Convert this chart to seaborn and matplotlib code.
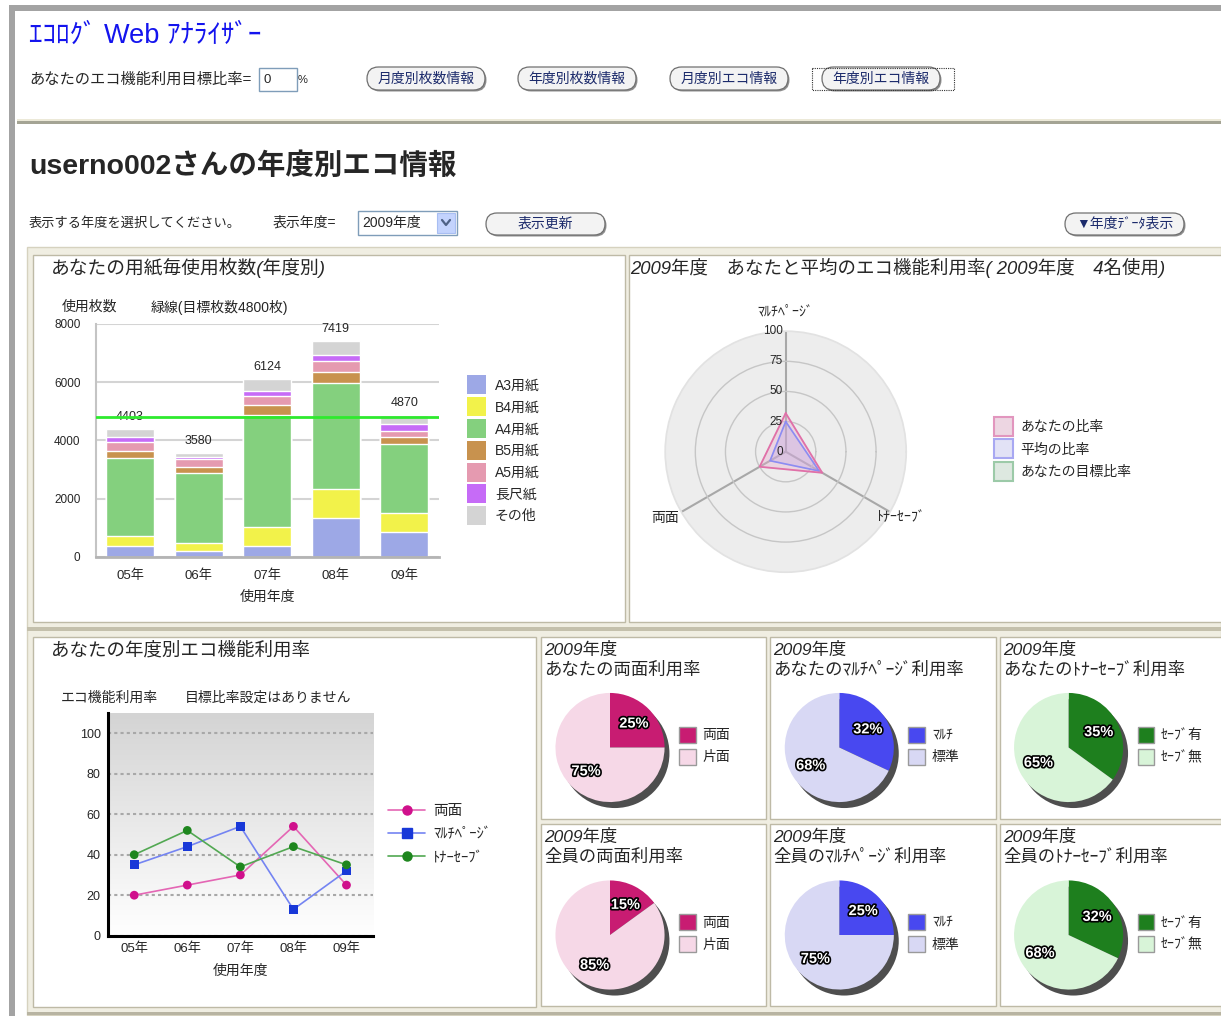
import numpy as np
import pandas as pd
import matplotlib
matplotlib.use("Agg")
import matplotlib.pyplot as plt
import matplotlib.patheffects as pe
import seaborn as sns
from matplotlib.patches import Rectangle, FancyBboxPatch, Patch
from matplotlib.lines import Line2D
from matplotlib.colors import LinearSegmentedColormap

W, H = 1221, 1016

# --- paper usage per year (stacked bars) ---
years = ["05年", "06年", "07年", "08年", "09年"]
paper_types = ["A3用紙", "B4用紙", "A4用紙", "B5用紙", "A5用紙", "長尺紙", "その他"]
paper_colors = ["#9DA8E6", "#F2F24A", "#84D07E", "#C8924E", "#E59AB0", "#C66BF7", "#D4D4D4"]
a3 = [380, 200, 370, 1330, 860]
b4 = [340, 260, 640, 1000, 650]
a4 = [2670, 2405, 3850, 3650, 2365]
b5 = [255, 230, 345, 370, 230]
a5 = [310, 250, 320, 365, 230]
chou = [150, 95, 180, 220, 230]
other = [298, 140, 419, 484, 305]
target_sheets = 4800
bar_ticks = [0, 2000, 4000, 6000, 8000]

# --- eco function rate per year (lines) ---
eco_series = ["両面", "ﾏﾙﾁﾍﾟｰｼﾞ", "ﾄﾅｰｾｰﾌﾞ"]
duplex_rate = [20, 25, 30, 54, 25]
multipage_rate = [35, 44, 54, 13, 32]
toner_rate = [40, 52, 34, 44, 35]
line_ticks = [0, 20, 40, 60, 80, 100]
line_colors = ["#E466B4", "#7484F2", "#52A852"]
marker_colors = ["#D0108C", "#1838D8", "#1E861E"]

# --- radar (2009) ---
radar_axes = ["ﾏﾙﾁﾍﾟｰｼﾞ", "ﾄﾅｰｾｰﾌﾞ", "両面"]
radar_deg = [90, 330, 210]
you_ratio = [32, 35, 25]
avg_ratio = [25, 32, 15]
goal_ratio = [0, 0, 0]
radar_ticks = [0, 25, 50, 75, 100]
radar_legend = ["あなたの比率", "平均の比率", "あなたの目標比率"]

# --- pies (2009) ---
pie_titles_you = ["あなたの両面利用率", "あなたのﾏﾙﾁﾍﾟｰｼﾞ利用率", "あなたのﾄﾅｰｾｰﾌﾞ利用率"]
pie_titles_all = ["全員の両面利用率", "全員のﾏﾙﾁﾍﾟｰｼﾞ利用率", "全員のﾄﾅｰｾｰﾌﾞ利用率"]
pie_labels = [["両面", "片面"], ["ﾏﾙﾁ", "標準"], ["ｾｰﾌﾞ有", "ｾｰﾌﾞ無"]]
you_on = [25, 32, 35]
you_off = [75, 68, 65]
all_on = [15, 25, 32]
all_off = [85, 75, 68]
pie_dark = ["#C81C72", "#4848F0", "#1E7F1E"]
pie_light = ["#F6D8E7", "#D8D8F4", "#D8F4D8"]

sns.set_theme(style="white")
plt.rcParams["font.family"] = ["Liberation Sans", "Noto Sans CJK JP", "DejaVu Sans"]


def box(x0, y0, x1, y1):
    return [x0 / W, 1 - y1 / H, (x1 - x0) / W, (y1 - y0) / H]


def hh(px, fs):
    # legend handleheight (font units) that gives a handle of px pixels
    return (px / (fs * 100 / 72) - 0.245) / 0.65


fig = plt.figure(figsize=(W / 100, H / 100), dpi=100)
fig.patch.set_facecolor("white")
bg = fig.add_axes([0, 0, 1, 1])
bg.set_xlim(0, W)
bg.set_ylim(H, 0)
bg.axis("off")

# page frame
bg.add_patch(Rectangle((9, 5), W - 9, 6, color="#A3A3A3", lw=0))
bg.add_patch(Rectangle((9, 5), 6, H - 5, color="#A3A3A3", lw=0))
bg.add_patch(Rectangle((17, 119), W - 17, 2, color="#ECE9D8", lw=0))
bg.add_patch(Rectangle((17, 121), W - 17, 3, color="#A4A494", lw=0))


def button(x0, y0, x1, y1, label):
    h = y1 - y0
    bs = f"round,pad=0,rounding_size={h / 2}"
    bg.add_patch(FancyBboxPatch((x0 + 1.5, y0 + 1.5), x1 - x0, h, boxstyle=bs, fc="#8E8E8E", ec="none"))
    bg.add_patch(FancyBboxPatch((x0, y0), x1 - x0, h, boxstyle=bs, fc="#F3F3F3", ec="#707070", lw=0.9))
    bg.text((x0 + x1) / 2, (y0 + y1) / 2, label, ha="center", va="center", fontsize=10, color="#1B2A6B")


# header
bg.text(29, 36, "ｴｺﾛｸﾞ Web ｱﾅﾗｲｻﾞｰ", fontsize=19.5, color="#1414EE", va="center")
bg.text(29, 80, "あなたのエコ機能利用目標比率=", fontsize=11, va="center")
bg.add_patch(Rectangle((259, 68), 38, 23, fc="white", ec="#7F9DB9", lw=1))
bg.text(263, 80, "0", fontsize=9.5, va="center")
bg.text(298, 80, "%", fontsize=8, va="center")
button(367, 67, 485, 90, "月度別枚数情報")
button(518, 67, 636, 90, "年度別枚数情報")
button(670, 67, 788, 90, "月度別エコ情報")
button(822, 67, 940, 90, "年度別エコ情報")
bg.add_patch(Rectangle((812, 68), 142, 22, fill=False, ls=(0, (1, 1)), lw=0.8, ec="#333333"))

bg.text(29, 166, "userno002さんの年度別エコ情報", fontsize=20.5, fontweight="bold", va="center")
bg.text(29, 223, "表示する年度を選択してください。", fontsize=9.5, va="center")
bg.text(273, 223, "表示年度=", fontsize=10, va="center")
bg.add_patch(Rectangle((358, 211), 99, 24, fc="white", ec="#7F9DB9", lw=1))
bg.text(362, 223, "2009年度", fontsize=10, va="center")
bg.add_patch(Rectangle((437, 213), 18, 20, fc="#C3D3FD", ec="#A8BEF2", lw=0.8))
bg.plot([442, 446, 450], [220, 225, 220], color="#4D6185", lw=1.6)
button(486, 213, 605, 235, "表示更新")
button(1065, 213, 1184, 235, "▼年度ﾃﾞｰﾀ表示")

# panel container
bg.add_patch(Rectangle((27, 247), W - 27, 768, fc="#F0EEE2", ec="#D6D2BF", lw=1))
bg.add_patch(Rectangle((27, 1012), W - 27, 3, color="#B8B4A2", lw=0))
bg.add_patch(Rectangle((27, 627), W - 27, 4, color="#C4C0AC", lw=0))
panels = [(33, 255, 625, 622), (629, 255, W + 2, 622), (33, 637, 536, 1007),
          (541, 637, 766, 819), (770, 637, 996, 819), (1000, 637, W + 2, 819),
          (541, 824, 766, 1006), (770, 824, 996, 1006), (1000, 824, W + 2, 1006)]
for x0, y0, x1, y1 in panels:
    bg.add_patch(Rectangle((x0, y0), x1 - x0, y1 - y0, fc="white", ec="#BEBAA6", lw=1))

# panel titles
bg.text(51, 268, "あなたの用紙毎使用枚数(年度別)", fontsize=13.5, style="italic", va="center")
bg.text(630, 268, "2009年度　あなたと平均のエコ機能利用率( 2009年度　4名使用)", fontsize=13.3, style="italic", va="center")
bg.text(51, 651, "あなたの年度別エコ機能利用率", fontsize=13.3, style="italic", va="center")
bg.text(62, 307, "使用枚数", fontsize=10, va="center")
bg.text(151, 307, "緑線(目標枚数4800枚)", fontsize=10, va="center")
bg.text(61, 698, "エコ機能利用率", fontsize=10, va="center")
bg.text(185, 698, "目標比率設定はありません", fontsize=10, va="center")

# ---------------- stacked bars ----------------
axb = fig.add_axes(box(95.8, 324, 438.7, 556.7))
layers = [a3, b4, a4, b5, a5, chou, other]
cum = np.cumsum(layers, axis=0)
for i in reversed(range(len(layers))):
    sns.barplot(x=years, y=cum[i], color=paper_colors[i], saturation=1, width=0.7,
                errorbar=None, ax=axb, zorder=2)
axb.bar_label(axb.containers[0], labels=[str(v) for v in cum[-1]], padding=4, fontsize=9)
axb.axhline(target_sheets, color="#2EEA2E", lw=2, zorder=4)
axb.set_xlim(-0.5, 4.5)
axb.set_ylim(0, 8000)
axb.set_yticks(bar_ticks)
axb.set_axisbelow(True)
axb.yaxis.grid(True, color="#D4D4D4", lw=1.5)
axb.tick_params(axis="y", length=0, pad=11, labelsize=8.5)
axb.tick_params(axis="x", length=0, pad=9, labelsize=9.5)
for s in ["top", "right"]:
    axb.spines[s].set_visible(False)
axb.spines["left"].set_color("#C4C4C4")
axb.spines["left"].set_linewidth(1.5)
axb.spines["bottom"].set_color("#B4B4B4")
axb.spines["bottom"].set_linewidth(2)
axb.set_ylabel("")
axb.set_xlabel("使用年度", fontsize=10, va="center")
axb.xaxis.set_label_coords(0.5, -0.173)
axb.legend([Patch(fc=c, ec="none") for c in paper_colors], paper_types,
           loc="upper left", bbox_to_anchor=(467, 375.5), bbox_transform=bg.transData,
           frameon=False, borderpad=0, borderaxespad=0, handlelength=1.37, handleheight=hh(19, 10),
           labelspacing=0.2, handletextpad=0.65, fontsize=10)

# ---------------- line chart ----------------
axl = fig.add_axes(box(107.7, 713, 373, 935.7))
df_line = pd.DataFrame({
    "year": years * 3,
    "series": np.repeat(eco_series, len(years)),
    "rate": duplex_rate + multipage_rate + toner_rate,
})
sns.lineplot(data=df_line, x="year", y="rate", hue="series", palette=dict(zip(eco_series, line_colors)),
             lw=1.2, sort=False, legend=False, ax=axl, zorder=3)
sns.scatterplot(data=df_line, x="year", y="rate", hue="series", style="series",
                markers=dict(zip(eco_series, ["o", "s", "o"])),
                palette=dict(zip(eco_series, marker_colors)), s=40, linewidth=0,
                legend=False, ax=axl, zorder=4)
grey_fade = LinearSegmentedColormap.from_list("fade", ["#FFFFFF", "#D4D4D4"])
axl.imshow(np.linspace(0, 1, 256)[:, None], extent=(-0.5, 4.5, 0, 110), origin="lower",
           cmap=grey_fade, aspect="auto", zorder=0)
axl.set_xlim(-0.5, 4.5)
axl.set_ylim(0, 110)
axl.set_yticks(line_ticks)
axl.yaxis.grid(True, color="#A8A8A8", lw=1.5, ls=(0, (1.5, 1.5)))
axl.set_axisbelow(False)
for gl in axl.get_ygridlines():
    gl.set_zorder(1)
axl.tick_params(axis="y", length=0, pad=5, labelsize=9)
axl.tick_params(axis="x", length=0, pad=4.5, labelsize=9.5)
for s in ["top", "right"]:
    axl.spines[s].set_visible(False)
for s in ["left", "bottom"]:
    axl.spines[s].set_color("black")
    axl.spines[s].set_linewidth(2.2)
    axl.spines[s].set_zorder(5)
axl.set_ylabel("")
axl.set_xlabel("使用年度", fontsize=10, va="center")
axl.xaxis.set_label_coords(0.5, -0.157)
line_handles = [Line2D([0], [0], color=lc, lw=1.2, marker=m, markersize=6.5,
                       markerfacecolor=mc, markeredgecolor=mc)
                for lc, mc, m in zip(line_colors, marker_colors, ["o", "s", "o"])]
axl.legend(line_handles, eco_series, loc="upper left", bbox_to_anchor=(388, 804),
           bbox_transform=bg.transData, frameon=False, borderpad=0, borderaxespad=0,
           handlelength=2.55, handletextpad=0.55, labelspacing=0.62, fontsize=10.5)

# ---------------- radar ----------------
axr = fig.add_axes(box(665.2, 331.2, 906.2, 572.2), projection="polar")
theta = np.deg2rad(radar_deg + radar_deg[:1])
axr.set_facecolor("#EDEDED")
axr.fill(theta, goal_ratio + goal_ratio[:1], color="#D6E6DA", alpha=0.6)
axr.fill(theta, avg_ratio + avg_ratio[:1], color="#ACACF0", alpha=0.35, zorder=3)
axr.fill(theta, you_ratio + you_ratio[:1], color="#E8A8CC", alpha=0.35, zorder=3)
axr.plot(theta, avg_ratio + avg_ratio[:1], color="#8C8CF2", lw=1.2, zorder=4)
axr.plot(theta, you_ratio + you_ratio[:1], color="#E070A8", lw=1.3, zorder=4)
axr.set_ylim(0, 100)
axr.set_yticks(radar_ticks[1:-1])
axr.set_yticklabels([])
axr.set_xticks(np.deg2rad(radar_deg))
axr.set_xticklabels([])
axr.xaxis.grid(True, color="#A8A8A8", lw=1.5)
axr.yaxis.grid(True, color="#C6C6C6", lw=1)
axr.spines["polar"].set_color("#E2E2E2")
for v in radar_ticks:
    axr.annotate(str(v), xy=(np.pi / 2, v), xytext=(-2, 0), textcoords="offset points",
                 ha="right", va="center", fontsize=8.5, zorder=6)
axr.annotate(radar_axes[0], xy=(np.deg2rad(radar_deg[0]), 100), xytext=(0, 14),
             textcoords="offset points", ha="center", va="center", fontsize=10, annotation_clip=False)
axr.annotate(radar_axes[1], xy=(np.deg2rad(radar_deg[1]), 100), xytext=(-10, -4),
             textcoords="offset points", ha="left", va="center", fontsize=10, annotation_clip=False)
axr.annotate(radar_axes[2], xy=(np.deg2rad(radar_deg[2]), 100), xytext=(-2, -4),
             textcoords="offset points", ha="right", va="center", fontsize=10, annotation_clip=False)
radar_handles = [Patch(fc="#EDD6E2", ec="#E296BE", lw=1.5),
                 Patch(fc="#E2E2F6", ec="#A8A8F2", lw=1.5),
                 Patch(fc="#DDE8E0", ec="#9CCAA8", lw=1.5)]
axr.legend(radar_handles, radar_legend, loc="upper left", bbox_to_anchor=(994, 417),
           bbox_transform=bg.transData, frameon=False, borderpad=0, borderaxespad=0,
           handlelength=1.37, handleheight=hh(19, 10), labelspacing=0.25, handletextpad=0.55,
           fontsize=10)

# ---------------- pies ----------------
pie_cx = [610, 839.3, 1068.6]
rows = [(pie_titles_you, you_on, you_off, 747.5, 637),
        (pie_titles_all, all_on, all_off, 935, 824)]
for titles, on_vals, off_vals, cy, top in rows:
    for j, cx in enumerate(pie_cx):
        px0 = panels[3 + j][0]
        bg.text(px0 + 3, top + 13, "2009年度", fontsize=12.5, style="italic", va="center")
        bg.text(px0 + 3, top + 33, titles[j], fontsize=12.5, style="italic", va="center")
        axp = fig.add_axes(box(cx - 60, cy - 60, cx + 60, cy + 60))
        axp.pie([1], colors=["#4E4E4E"], radius=1, center=(0.09, -0.11),
                wedgeprops=dict(linewidth=0))
        _, _, autotexts = axp.pie([on_vals[j], off_vals[j]], colors=[pie_dark[j], pie_light[j]],
                                  startangle=90, counterclock=False, autopct="%.0f%%",
                                  pctdistance=0.62, radius=1, wedgeprops=dict(linewidth=0))
        for t in autotexts:
            t.set_color("white")
            t.set_fontsize(10.5)
            t.set_fontweight("bold")
            t.set_path_effects([pe.withStroke(linewidth=2.4, foreground="black")])
        axp.set_xlim(-1.1, 1.1)
        axp.set_ylim(-1.1, 1.1)
        axp.axis("off")
        axp.legend([Patch(fc=pie_dark[j], ec="#9A9A9A"), Patch(fc=pie_light[j], ec="#9A9A9A")],
                   pie_labels[j], loc="upper left", bbox_to_anchor=(cx + 69, cy - 21),
                   bbox_transform=bg.transData, frameon=False, borderpad=0, borderaxespad=0,
                   handlelength=1.2, handleheight=hh(16, 10), labelspacing=0.45, handletextpad=0.5,
                   fontsize=10)

fig.savefig("out.png", dpi=100)
